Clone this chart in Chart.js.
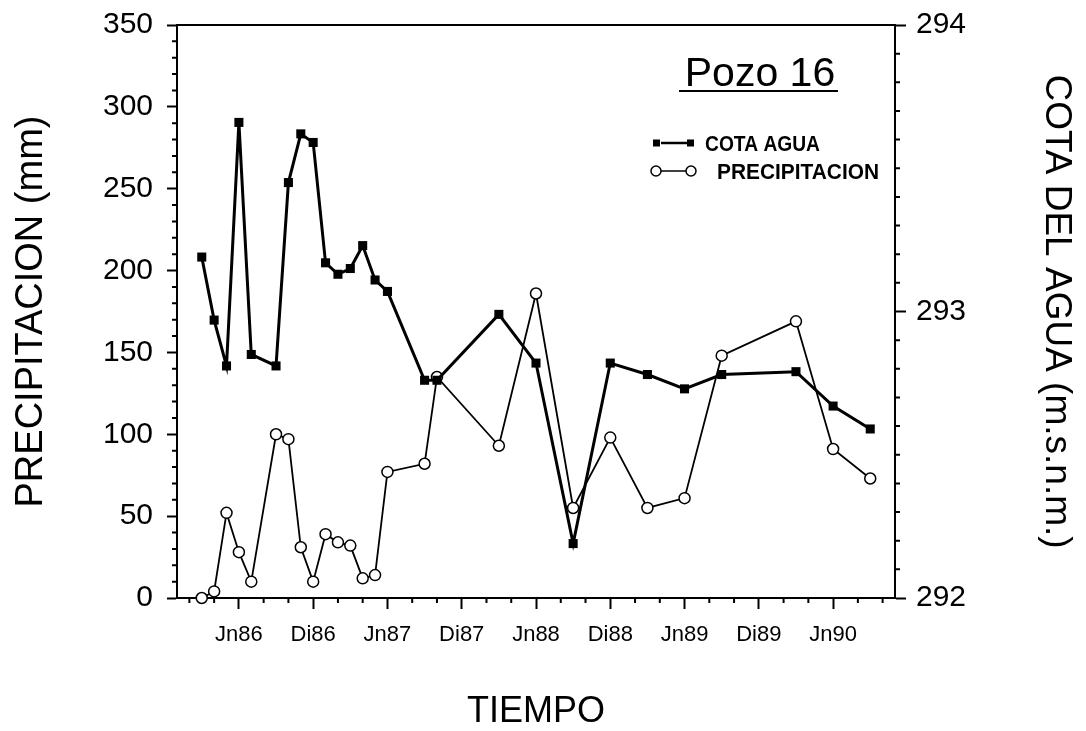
<!DOCTYPE html>
<html>
<head>
<meta charset="utf-8">
<script src="https://cdn.jsdelivr.net/npm/chart.js@4"></script>
<style>
body{margin:0;background:#fff;}
</style>
</head>
<body>
<canvas id="pozoChart" width="1086" height="731"></canvas>
<script>
// meses contados desde junio 1986 (Jn86 = 0)
var meses = [-3,-2,-1,0,1,3,4,5,6,7,8,9,10,11,12,15,16,21,24,27,30,33,36,39,45,48,51];
// cota del agua (m.s.n.m.) - eje derecho
var cotaAgua = [293.19,292.97,292.81,293.66,292.85,292.81,293.45,293.62,293.59,293.17,293.13,293.15,293.23,293.11,293.07,292.76,292.76,292.99,292.82,292.19,292.82,292.78,292.73,292.78,292.79,292.67,292.59];
// precipitacion (mm) - eje izquierdo
var precipitacion = [0,4,52,28,10,100,97,31,10,39,34,32,12,14,77,82,135,93,186,55,98,55,61,148,169,91,73];
// etiquetas del eje x
var tickMeses = [0,6,12,18,24,30,36,42,48];
var tickLabels = ['Jn86','Di86','Jn87','Di87','Jn88','Di88','Jn89','Di89','Jn90'];

var FONT = "'Liberation Sans', Arial, Helvetica, sans-serif";

function puntos(ys){
  return meses.map(function(m, i){ return {x: m, y: ys[i]}; });
}

// ticks menores, recuadro superior, titulo y leyenda
var extras = {
  id: 'extras',
  afterDraw: function(chart){
    var ctx = chart.ctx, a = chart.chartArea;
    var sx = chart.scales.x, sp = chart.scales.yPrecip, sc = chart.scales.yCota;
    ctx.save();
    ctx.strokeStyle = '#000';
    ctx.lineWidth = 2;
    ctx.beginPath();
    ctx.moveTo(a.left, a.top); ctx.lineTo(a.right, a.top);
    for (var m = -4; m <= 52; m += 2) {
      if (m % 6 === 0) continue;
      var px = sx.getPixelForValue(m);
      ctx.moveTo(px, a.bottom); ctx.lineTo(px, a.bottom + 5);
    }
    for (var v = 10; v < 350; v += 10) {
      if (v % 50 === 0) continue;
      var py = sp.getPixelForValue(v);
      ctx.moveTo(a.left - 5, py); ctx.lineTo(a.left, py);
    }
    for (var k = 1; k < 20; k++) {
      if (k % 10 === 0) continue;
      var pc = sc.getPixelForValue(292 + k / 10);
      ctx.moveTo(a.right, pc); ctx.lineTo(a.right + 5, pc);
    }
    ctx.stroke();

    // titulo
    ctx.fillStyle = '#000';
    ctx.font = '41px ' + FONT;
    ctx.textAlign = 'center';
    ctx.textBaseline = 'alphabetic';
    ctx.fillText('Pozo 16', 760, 86);
    ctx.beginPath();
    ctx.moveTo(679, 91); ctx.lineTo(838, 91);
    ctx.stroke();

    // leyenda
    ctx.font = 'bold 22px ' + FONT;
    ctx.textAlign = 'left';
    ctx.lineWidth = 2.5;
    ctx.beginPath();
    ctx.moveTo(661, 143); ctx.lineTo(687, 143);
    ctx.stroke();
    ctx.fillRect(653, 139.5, 7, 7);
    ctx.fillRect(687, 139.5, 7, 7);
    ctx.fillText('COTA AGUA', 705, 151, 115);

    ctx.lineWidth = 1.5;
    ctx.beginPath();
    ctx.moveTo(661, 171); ctx.lineTo(686, 171);
    ctx.stroke();
    [656, 691].forEach(function(cx){
      ctx.beginPath();
      ctx.arc(cx, 171, 5, 0, Math.PI * 2);
      ctx.fillStyle = '#fff'; ctx.fill();
      ctx.stroke();
    });
    ctx.fillStyle = '#000';
    ctx.fillText('PRECIPITACION', 717, 179, 162);
    ctx.restore();
  }
};

var ctx = document.getElementById('pozoChart').getContext('2d');
var pozoChart = new Chart(ctx, {
  type: 'line',
  data: {
    datasets: [{
      label: 'COTA AGUA',
      data: puntos(cotaAgua),
      yAxisID: 'yCota',
      borderColor: '#000',
      borderWidth: 3,
      pointStyle: 'rect',
      pointRadius: 6.4,
      pointBackgroundColor: '#000',
      pointBorderColor: '#000',
      pointBorderWidth: 0,
      tension: 0,
      clip: false
    }, {
      label: 'PRECIPITACION',
      data: puntos(precipitacion),
      yAxisID: 'yPrecip',
      borderColor: '#000',
      borderWidth: 1.8,
      pointStyle: 'circle',
      pointRadius: 5.5,
      pointBackgroundColor: '#fff',
      pointBorderColor: '#000',
      pointBorderWidth: 1.5,
      tension: 0,
      clip: false
    }]
  },
  options: {
    responsive: false,
    animation: false,
    devicePixelRatio: 1,
    layout: { padding: { top: 25, left: 0, right: 0, bottom: 0 } },
    plugins: { legend: { display: false }, tooltip: { enabled: false } },
    scales: {
      x: {
        type: 'linear',
        min: -5,
        max: 53,
        afterBuildTicks: function(s){
          s.ticks = tickMeses.map(function(v){ return {value: v}; });
        },
        afterFit: function(s){ s.height = 133; },
        ticks: {
          autoSkip: false,
          maxRotation: 0,
          padding: 13,
          color: '#000',
          font: { family: FONT, size: 22 },
          callback: function(v){
            var i = tickMeses.indexOf(v);
            return i < 0 ? '' : tickLabels[i];
          }
        },
        grid: { drawOnChartArea: false, tickLength: 11, tickWidth: 2, tickColor: '#000' },
        border: { color: '#000', width: 2 },
        title: {
          display: true, text: 'TIEMPO', color: '#000',
          font: { family: FONT, size: 36, lineHeight: 1 },
          padding: { top: 0, bottom: 1 }
        }
      },
      yPrecip: {
        position: 'left',
        min: 0,
        max: 350,
        afterFit: function(s){ s.width = 177; },
        ticks: { stepSize: 50, padding: 14, color: '#000', font: { family: FONT, size: 30, lineHeight: 0.6 } },
        grid: { drawOnChartArea: false, tickLength: 10, tickWidth: 2, tickColor: '#000' },
        border: { color: '#000', width: 2 },
        title: {
          display: true, text: 'PRECIPITACION (mm)', color: '#000',
          font: { family: FONT, size: 38, lineHeight: 1 },
          padding: { top: 13, bottom: 0 }
        }
      },
      yCota: {
        position: 'right',
        min: 292,
        max: 294,
        afterFit: function(s){ s.width = 191; },
        ticks: { stepSize: 1, padding: 10, color: '#000', font: { family: FONT, size: 30, lineHeight: 0.6 } },
        grid: { drawOnChartArea: false, tickLength: 11, tickWidth: 2, tickColor: '#000' },
        border: { color: '#000', width: 2 },
        title: {
          display: true, text: 'COTA DEL AGUA (m.s.n.m.)', color: '#000',
          font: { family: FONT, size: 37, lineHeight: 1 },
          padding: { top: 11, bottom: 0 }
        }
      }
    }
  },
  plugins: [extras]
});
</script>
</body>
</html>
